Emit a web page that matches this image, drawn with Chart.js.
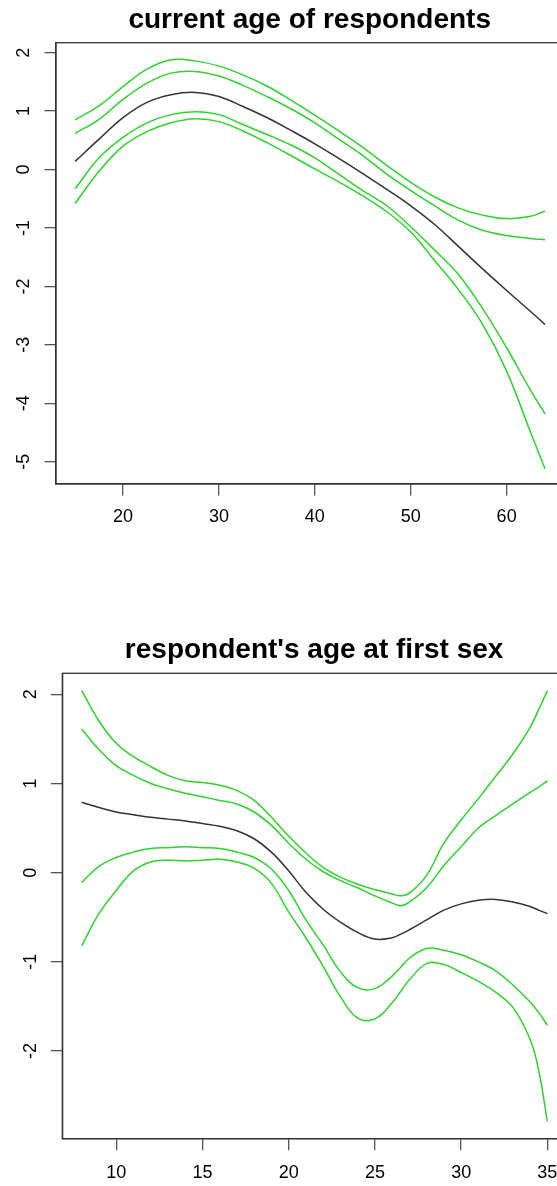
<!DOCTYPE html>
<html>
<head>
<meta charset="utf-8">
<script src="https://cdn.jsdelivr.net/npm/chart.js@4"></script>
<style>
  html, body { margin: 0; padding: 0; background: #fff; overflow: hidden; width: 557px; height: 1186px; }
  canvas { position: absolute; left: 0; }
  #ageChart { top: 0; }
  #firstSexChart { top: 630px; }
</style>
</head>
<body>
<canvas id="ageChart" width="600" height="556"></canvas>
<canvas id="firstSexChart" width="600" height="556"></canvas>
<script>
// panel 1: current age of respondents
const ageNow = [15, 17.5, 20, 22.5, 25, 27.5, 30, 32.5, 35, 37.5, 40, 42.5, 45, 47.5, 50, 52.5, 55, 57.5, 60, 62.5, 64];
const fitNow = [0.14, 0.52, 0.89, 1.15, 1.28, 1.32, 1.25, 1.08, 0.89, 0.67, 0.44, 0.19, -0.07, -0.34, -0.62, -0.94, -1.32, -1.70, -2.07, -2.43, -2.65];
const outerHiNow = [0.85, 1.09, 1.42, 1.72, 1.88, 1.86, 1.77, 1.62, 1.43, 1.19, 0.93, 0.66, 0.38, 0.07, -0.22, -0.47, -0.66, -0.78, -0.84, -0.80, -0.71];
const innerHiNow = [0.62, 0.86, 1.20, 1.48, 1.65, 1.68, 1.60, 1.44, 1.25, 1.04, 0.80, 0.52, 0.24, -0.08, -0.36, -0.62, -0.87, -1.04, -1.13, -1.18, -1.20];
const innerLoNow = [-0.33, 0.20, 0.55, 0.80, 0.94, 0.99, 0.94, 0.77, 0.60, 0.42, 0.20, -0.08, -0.36, -0.62, -0.98, -1.38, -1.80, -2.38, -3.05, -3.78, -4.18];
const outerLoNow = [-0.58, -0.03, 0.40, 0.65, 0.80, 0.87, 0.82, 0.66, 0.46, 0.24, 0.01, -0.21, -0.45, -0.72, -1.07, -1.56, -2.06, -2.65, -3.45, -4.50, -5.12];
const xTicksNow = [20, 30, 40, 50, 60];
const yTicksNow = [-5, -4, -3, -2, -1, 0, 1, 2];

// panel 2: respondent's age at first sex
const ageFirst = [8, 9, 10, 11, 12, 13, 14, 15, 16, 17, 18, 19, 20, 21, 22, 23, 24, 25, 26, 26.5, 27, 28, 29, 30, 31, 32, 33, 34, 34.5, 35];
const fitFirst = [0.79, 0.73, 0.68, 0.65, 0.62, 0.60, 0.58, 0.55, 0.52, 0.47, 0.38, 0.23, 0.02, -0.22, -0.41, -0.555, -0.67, -0.745, -0.73, -0.69, -0.64, -0.53, -0.42, -0.35, -0.31, -0.30, -0.33, -0.38, -0.42, -0.46];
const outerHiFirst = [2.04, 1.70, 1.45, 1.30, 1.19, 1.09, 1.03, 1.01, 0.98, 0.92, 0.81, 0.62, 0.41, 0.22, 0.06, -0.05, -0.13, -0.19, -0.24, -0.26, -0.23, -0.03, 0.33, 0.59, 0.83, 1.08, 1.33, 1.63, 1.83, 2.04];
const innerHiFirst = [1.61, 1.38, 1.20, 1.09, 1.00, 0.94, 0.89, 0.85, 0.81, 0.77, 0.68, 0.53, 0.33, 0.15, 0.01, -0.09, -0.17, -0.26, -0.34, -0.37, -0.33, -0.17, 0.08, 0.29, 0.50, 0.64, 0.77, 0.90, 0.96, 1.03];
const innerLoFirst = [-0.11, 0.07, 0.17, 0.23, 0.27, 0.28, 0.29, 0.28, 0.27, 0.23, 0.17, 0.04, -0.20, -0.53, -0.81, -1.11, -1.29, -1.30, -1.16, -1.06, -0.96, -0.85, -0.87, -0.92, -1.00, -1.10, -1.26, -1.45, -1.57, -1.71];
const outerLoFirst = [-0.82, -0.46, -0.20, 0.02, 0.12, 0.14, 0.13, 0.14, 0.15, 0.12, 0.05, -0.12, -0.44, -0.73, -1.05, -1.39, -1.63, -1.64, -1.46, -1.33, -1.20, -1.02, -1.03, -1.12, -1.22, -1.34, -1.51, -1.87, -2.22, -2.79];
const xTicksFirst = [10, 15, 20, 25, 30, 35];
const yTicksFirst = [-2, -1, 0, 1, 2];

Chart.defaults.font.family = "'Liberation Sans', Arial, sans-serif";

const GREEN = '#2fd12f';
const AXIS = '#333';

// R draws a full box round the plot region
const boxPlugin = {
  id: 'box',
  afterDraw(chart) {
    const { ctx, chartArea: a } = chart;
    ctx.save();
    ctx.strokeStyle = AXIS;
    ctx.lineWidth = 1.3;
    ctx.strokeRect(a.left, a.top, a.right - a.left, a.bottom - a.top);
    ctx.restore();
  }
};

function curve(ages, ys, color) {
  return {
    data: ages.map((a, i) => ({ x: a, y: ys[i] })),
    borderColor: color,
    borderWidth: 1.5,
    pointRadius: 0,
    fill: false,
    tension: 0.4
  };
}

function createConfig(p) {
  return {
    type: 'line',
    data: {
      datasets: [
        curve(p.ages, p.fit, AXIS),
        curve(p.ages, p.outerHi, GREEN),
        curve(p.ages, p.innerHi, GREEN),
        curve(p.ages, p.innerLo, GREEN),
        curve(p.ages, p.outerLo, GREEN)
      ]
    },
    options: {
      responsive: false,
      animation: false,
      layout: { padding: { left: 0, top: 0, right: p.padRight, bottom: 0 } },
      plugins: {
        legend: { display: false },
        tooltip: { enabled: false },
        title: {
          display: true,
          text: p.title,
          fullSize: false,
          color: '#000',
          font: { size: 28, weight: 'bold', lineHeight: 1.2 },
          padding: { top: p.titleTop, bottom: p.titleBottom }
        }
      },
      scales: {
        x: {
          type: 'linear',
          min: p.xMin,
          max: p.xMax,
          afterBuildTicks: s => { s.ticks = p.xTicks.map(v => ({ value: v })); },
          afterFit: s => { s.height = p.xAxisHeight; },
          grid: { drawOnChartArea: false, drawTicks: true, tickLength: 11.5, color: '#555', lineWidth: 1.3 },
          border: { display: true, color: AXIS, width: 1.3 },
          ticks: { color: '#000', font: { size: 18 }, padding: p.xLabelPad, maxRotation: 0, autoSkip: false, callback: v => String(v) }
        },
        y: {
          type: 'linear',
          min: p.yMin,
          max: p.yMax,
          afterBuildTicks: s => { s.ticks = p.yTicks.map(v => ({ value: v })); },
          afterFit: s => { s.width = p.yAxisWidth; },
          grid: { drawOnChartArea: false, drawTicks: true, tickLength: 11.5, color: '#555', lineWidth: 1.3 },
          border: { display: true, color: AXIS, width: 1.3 },
          ticks: { color: '#000', font: { size: 18 }, padding: 12, minRotation: 90, maxRotation: 90, crossAlign: 'center', autoSkip: false, callback: v => String(v) }
        }
      }
    },
    plugins: [boxPlugin]
  };
}

window.onload = () => {
  new Chart(document.getElementById('ageChart'), createConfig({
    title: 'current age of respondents',
    ages: ageNow, fit: fitNow,
    outerHi: outerHiNow, innerHi: innerHiNow, innerLo: innerLoNow, outerLo: outerLoNow,
    xTicks: xTicksNow, yTicks: yTicksNow,
    xMin: 13.01, xMax: 65.92, yMin: -5.382, yMax: 2.171,
    padRight: 36.6, yAxisWidth: 56, xAxisHeight: 72,
    titleTop: 3.5, titleBottom: 5.6, xLabelPad: 10.4
  }));
  new Chart(document.getElementById('firstSexChart'), createConfig({
    title: "respondent's age at first sex",
    ages: ageFirst, fit: fitFirst,
    outerHi: outerHiFirst, innerHi: innerHiFirst, innerLo: innerLoFirst, outerLo: outerLoFirst,
    xTicks: xTicksFirst, yTicks: yTicksFirst,
    xMin: 6.875, xMax: 36.08, yMin: -2.983, yMax: 2.235,
    padRight: 34, yAxisWidth: 62.3, xAxisHeight: 47.3,
    titleTop: 3.5, titleBottom: 6.2, xLabelPad: 12.3
  }));
};
</script>
</body>
</html>
